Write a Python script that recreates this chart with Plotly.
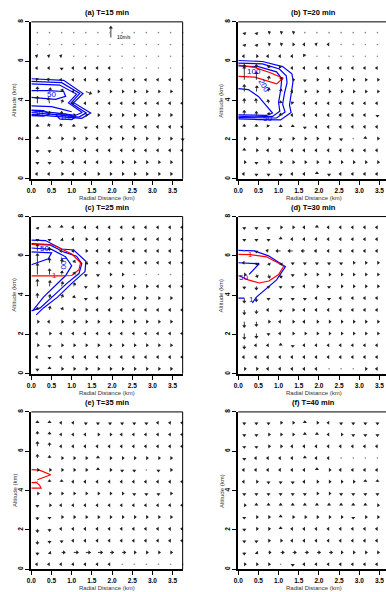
import math
import plotly.graph_objects as go

# ---------------------------------------------------------------- grid
radial_km = [0.15, 0.45, 0.75, 1.05, 1.35, 1.65, 1.95, 2.25, 2.55, 2.85, 3.15, 3.45, 3.75]
altitude_km = [7.45, 6.85, 6.25, 5.65, 5.05, 4.45, 3.85, 3.25, 2.65, 2.05, 1.45, 0.85, 0.25]

x_tick_vals = [0.0, 0.5, 1.0, 1.5, 2.0, 2.5, 3.0, 3.5]
x_tick_text = ["0.0", "0.5", "1.0", "1.5", "2.0", "2.5", "3.0", "3.5"]
y_tick_vals = [0, 2, 4, 6, 8]
y_tick_text = ["0", "2", "4", "6", "8"]

panel_titles = ["(a) T=15 min", "(b) T=20 min", "(c) T=25 min",
                "(d) T=30 min", "(e) T=35 min", "(f) T=40 min"]

# ---------------------------------------------------------------- wind (u, v) in m/s
E = (1.5, 0.0)    # weak outward flow
W = (-1.5, 0.0)   # weak inward flow
N = (0.0, 1.5)    # weak ascent
S = (0.0, -1.5)   # weak descent
C = (0.0, 0.0)    # calm

# rows run from the top level (7.45 km) down to 0.25 km
wind_a = [
    [C, C, C, C, C, C, C, C, C, C, C, C, C],
    [C, C, C, C, C, C, C, C, C, C, C, C, C],
    [(-1.5, 0.5), (-1.5, 0.5), (-1.5, 0.5), C, C, C, C, C, C, C, C, C, C],
    [W, W, S, W, W, W, W, C, C, C, C, C, C],
    [(-1.0, 1.0), (-2.0, 0.5), W, W, W, W, W, W, W, W, W, W, W],
    [(0.0, 4.0), (1.0, 3.0), (1.0, 2.0), W, (5.0, -2.0), E, E, E, E, E, E, E, E],
    [(0.0, 6.0), (-1.0, 5.0), (1.0, 3.0), W, W, W, W, W, W, W, W, W, W],
    [(0.0, 1.0), (0.0, 3.0), (0.0, 3.0), E, E, E, E, E, E, E, E, E, E],
    [(0.0, 2.0), (-1.0, 2.5), (-1.0, 2.5), (0.0, 2.0), S, W, W, W, W, W, W, W, W],
    [N, N, E, E, E, W, E, E, E, E, E, E, S],
    [S, S, W, W, W, W, W, W, W, W, W, W, W],
    [S, S, E, W, W, W, E, E, E, E, E, E, E],
    [W, W, E, W, W, E, E, E, E, E, E, E, E],
]
wind_b = [
    [(0.5, -1.5), (0.5, -1.5), (1.5, 0.5), (1.5, 0.5), (1.5, 0.5), C, C, C, C, C, C, C, C],
    [(0.5, -1.5), (0.5, -1.5), (1.5, 0.5), (1.5, 0.5), E, W, (-1.5, 0.5), W, C, C, C, C, C],
    [W, E, W, W, W, (-1.0, 1.5), C, C, C, C, C, C, C],
    [(0.0, 3.0), (0.0, 3.0), (0.5, 2.0), (-1.0, 1.5), W, W, W, W, W, W, W, W, W],
    [(0.0, 12.0), (0.0, 7.0), (0.5, 3.0), (1.0, 2.0), E, S, E, E, E, E, E, E, E],
    [(0.0, 6.0), (0.5, 5.0), (0.5, 3.0), (0.5, 2.0), W, E, E, E, E, E, E, E, E],
    [(0.0, 4.0), (-0.5, 4.0), (-0.5, 3.0), (0.0, 2.0), (-1.0, 1.0), W, W, W, W, W, W, W, W],
    [(0.0, 4.0), (0.0, 3.0), (0.5, 2.0), N, W, W, W, W, W, W, W, S, S],
    [(0.0, 2.0), (0.0, 2.0), (-1.0, 1.5), N, N, S, W, W, W, W, W, W, W],
    [E, E, E, S, E, E, E, E, S, C, N, E, E],
    [N, E, W, W, W, W, W, W, W, W, W, W, W],
    [E, S, E, E, E, E, E, E, E, E, E, E, E],
    [W, S, S, S, W, W, N, S, W, W, W, W, W],
]
wind_c = [
    [(0.5, -1.5), N, N, W, W, W, W, W, W, W, W, W, W],
    [S, S, (1.0, -1.0), W, E, W, W, W, W, W, W, W, W],
    [(0.0, 6.0), (0.0, 3.0), W, W, E, W, W, W, W, W, W, W, W],
    [(0.0, 8.0), (0.0, 4.0), (0.5, 3.0), (1.0, 2.0), (1.5, -1.0), W, W, W, W, W, W, W, W],
    [(0.0, 10.0), (0.0, 5.0), (0.5, 3.0), (1.0, 2.0), S, S, E, E, C, C, C, C, C],
    [(0.0, 6.0), (0.5, 5.0), (1.0, 4.0), (1.0, 3.0), S, E, E, E, E, E, W, W, W],
    [(0.0, 4.0), (0.5, 3.0), (1.0, 3.0), (0.5, 2.0), S, W, E, E, E, E, E, E, E],
    [(0.0, 2.0), (0.5, 3.0), (1.0, 2.0), E, E, W, W, W, W, W, W, W, W],
    [E, W, E, E, E, E, E, E, E, E, E, E, E],
    [W, E, W, W, W, W, W, W, W, W, W, W, W],
    [E, S, E, E, E, E, E, E, E, E, E, E, E],
    [W, S, W, W, W, W, W, W, W, W, W, W, W],
    [S, N, E, E, E, E, E, E, E, E, E, E, E],
]
wind_d = [
    [S, S, S, E, E, W, N, W, W, W, W, W, W],
    [S, S, S, N, W, W, W, W, W, W, W, W, W],
    [C, S, (-2.0, 0.5), (-4.0, 0.0), (-4.0, 0.0), (-3.0, 0.0), (-2.0, 0.0), W, W, W, W, W, W],
    [W, (1.0, -2.0), (1.0, -2.0), (1.0, -2.0), S, S, S, S, S, E, E, E, E],
    [E, (1.0, -2.5), (1.0, -3.0), (0.5, -3.0), S, E, E, E, E, E, E, E, E],
    [(0.0, -2.0), (0.0, -3.0), S, S, S, W, E, S, E, E, E, E, E],
    [(0.0, -4.0), (0.0, -3.0), S, S, S, S, W, S, W, W, W, W, W],
    [(0.0, -4.0), (0.0, -3.0), W, S, E, W, W, W, W, W, W, W, W],
    [(0.0, -5.0), (0.0, -4.0), E, W, E, W, E, E, E, E, E, E, E],
    [(0.0, -5.0), (0.0, -4.0), S, W, E, E, E, E, E, E, E, E, E],
    [(0.0, -3.0), W, W, N, S, W, W, W, W, W, W, W, W],
    [W, W, W, W, W, W, W, W, W, W, W, W, W],
    [E, E, W, W, W, W, W, C, C, C, E, W, W],
]
wind_e = [
    [N, N, W, W, S, S, S, S, S, S, W, W, W],
    [(0.0, 2.5), (0.0, 2.0), W, W, W, E, E, W, W, W, W, W, W],
    [(0.0, 4.0), (0.0, 3.0), W, W, W, W, W, W, W, W, W, W, W],
    [(0.0, 3.0), (0.0, 2.0), E, E, E, N, E, E, E, E, E, E, E],
    [E, E, E, E, E, N, E, S, S, C, S, E, E],
    [C, N, N, W, W, W, W, W, W, W, W, W, W],
    [E, E, E, E, E, E, E, E, S, S, S, E, E],
    [S, E, W, W, W, W, W, W, W, W, W, W, W],
    [(0.0, -2.0), S, E, E, E, E, E, E, E, E, E, E, E],
    [(0.0, -3.0), (0.0, -2.0), W, W, W, W, W, W, W, W, W, W, W],
    [(0.0, -3.0), (0.0, -2.0), S, W, W, W, W, W, W, W, W, W, W],
    [(0.0, -2.0), (1.0, -1.0), (3.0, 0.0), (4.0, 0.0), (4.0, 0.0), (4.0, 0.0), (3.0, 0.0), (3.0, 0.0), E, E, E, E, E],
    [W, W, W, W, W, W, W, C, C, C, C, C, C],
]
wind_f = [
    [S, S, S, E, E, N, E, W, S, S, S, S, S],
    [S, S, E, E, E, N, N, W, E, S, S, S, S],
    [S, S, E, E, W, W, W, W, W, W, W, W, W],
    [S, W, W, W, W, N, W, W, C, C, C, C, C],
    [W, W, W, W, W, W, N, E, W, W, W, W, W],
    [W, E, S, S, S, W, E, E, E, E, N, N, N],
    [S, S, S, S, S, S, E, E, S, S, S, S, S],
    [E, N, N, N, N, N, N, N, N, N, N, E, E],
    [S, E, E, N, E, E, E, E, E, S, E, E, E],
    [S, E, E, N, W, W, W, W, W, W, W, W, W],
    [S, S, E, E, W, W, W, W, W, W, W, W, W],
    [(0.0, -2.0), (1.0, -1.0), (2.0, 0.0), (3.0, 0.0), (3.0, 0.0), (3.0, 0.0), (3.0, 0.0), (3.0, 0.0), E, E, E, E, E],
    [E, E, E, C, S, W, W, W, W, W, W, W, W],
]

# reference vector
ref_speed_ms = 10
ref_base = (1.97, 7.2)

# ---------------------------------------------------------------- contours (r km, z km)
contours_a = [
    ("blue", [0, 0.8, 1.28, 1.05, 1.47, 1.25, 0.6, 0], [5.1, 5.02, 4.35, 3.88, 3.35, 3.08, 3.18, 3.28]),
    ("blue", [0, 0.75, 1.2, 0.98, 1.36, 1.18, 0.6, 0], [4.97, 4.9, 4.35, 3.86, 3.36, 3.15, 3.27, 3.38]),
    ("blue", [0, 0.7, 1.12, 0.92, 1.26, 1.1, 0.6, 0], [4.84, 4.78, 4.32, 3.87, 3.38, 3.24, 3.36, 3.48]),
    ("blue", [0, 0.4, 0.8, 0.85, 0.6, 0.35, 0], [4.5, 4.5, 4.45, 4.2, 4.05, 4.1, 4.15]),
    ("blue", [0, 0.5, 0.75, 1.0], [3.72, 3.68, 3.55, 3.42]),
    ("blue", [0, 0.3, 0.45, 0.3, 0], [3.5, 3.48, 3.3, 3.2, 3.22]),
    ("blue", [0.6, 0.85, 1.1, 1.0, 0.7, 0.6], [3.3, 3.3, 3.15, 3.02, 3.05, 3.3]),
]
contours_b = [
    ("blue", [0, 0.6, 1.1, 1.33, 1.36, 1.31, 1.27, 1.31, 1.05, 0.5, 0],
     [6.03, 5.98, 5.72, 5.35, 5.0, 4.42, 3.75, 3.38, 3.0, 3.02, 3.05]),
    ("blue", [0, 0.6, 1.02, 1.19, 1.21, 1.15, 1.1, 1.16, 0.95, 0.5, 0],
     [5.9, 5.86, 5.6, 5.25, 4.9, 4.4, 3.8, 3.4, 3.1, 3.1, 3.12]),
    ("blue", [0, 0.5, 0.95, 1.08, 1.05, 1.0, 1.03, 0.85, 0.4, 0],
     [5.75, 5.72, 5.45, 5.1, 4.5, 3.9, 3.45, 3.18, 3.16, 3.19]),
    ("blue", [0, 0.25, 0.5, 0.7, 0.85, 0.7, 0.3, 0], [4.6, 4.55, 4.2, 3.7, 3.35, 3.23, 3.23, 3.26]),
    ("red", [0, 0.4, 0.78, 1.11, 0.95, 0.41, 0], [5.8, 5.68, 5.42, 5.13, 4.84, 5.18, 5.22]),
]
contours_c = [
    ("blue", [0, 0.35, 0.75, 1.05, 1.35, 1.33, 1.0, 0.65, 0.3, 0.12],
     [6.8, 6.78, 6.35, 6.3, 5.72, 5.2, 4.6, 3.9, 3.35, 3.0]),
    ("blue", [0, 0.45, 0.8, 1.12, 1.25, 1.18, 0.88, 0.55, 0.22, 0],
     [6.62, 6.57, 6.2, 5.98, 5.6, 5.1, 4.6, 3.95, 3.35, 3.2]),
    ("blue", [0, 0.5, 0.85, 1.0, 0.85, 0.6, 0.3, 0.05], [6.4, 6.33, 5.95, 5.5, 5.0, 4.5, 3.9, 3.25]),
    ("blue", [0, 0.5, 0.42, 0], [6.2, 6.15, 5.85, 5.55]),
    ("red", [0, 0.55, 1.0, 1.22, 1.18, 1.0, 0.7, 0], [6.58, 6.55, 6.1, 5.65, 5.3, 5.0, 4.98, 4.98]),
]
contours_d = [
    ("blue", [0, 0.4, 0.75, 1.17, 0.95, 0.7, 0.45, 0.35], [6.28, 6.25, 6.0, 5.45, 4.78, 4.35, 3.9, 3.6]),
    ("blue", [0, 0.15], [3.85, 3.85]),
    ("blue", [0, 0.52, 0.27], [5.65, 5.6, 5.06]),
    ("red", [0, 0.3, 0.7, 1.13, 1.0, 0.76, 0.52, 0.25, 0], [6.08, 6.06, 5.95, 5.48, 5.05, 4.72, 4.62, 4.78, 5.0]),
]
contours_e = [
    ("red", [0, 0.2, 0.48, 0.3, 0.15], [5.06, 5.04, 4.8, 4.68, 4.55]),
    ("red", [0, 0.12, 0.2, 0.24, 0], [4.4, 4.42, 4.28, 4.12, 4.12]),
]
contours_f = []

# contour labels: text, r, z, colour, rotation
labels_a = [("50", 0.5, 4.28, "blue", 0), ("50", 0.18, 3.35, "blue", 0), ("100", 0.88, 3.15, "blue", 0)]
labels_b = [("100", 0.38, 5.47, "blue", 0), ("200", 0.65, 4.72, "blue", 60), ("50", 0.72, 3.07, "blue", 0)]
labels_c = [("50", 0.33, 6.38, "blue", 0), ("100", 0.8, 5.65, "blue", 90), ("1", 0.57, 4.98, "red", 0)]
labels_d = [("1", 0.3, 6.06, "red", 0), ("50", 0.12, 4.92, "blue", 0), ("1", 0.32, 3.8, "blue", 0)]
labels_e = []
labels_f = []

winds = [wind_a, wind_b, wind_c, wind_d, wind_e, wind_f]
contours = [contours_a, contours_b, contours_c, contours_d, contours_e, contours_f]
labels = [labels_a, labels_b, labels_c, labels_d, labels_e, labels_f]

# ---------------------------------------------------------------- layout geometry (pixels)
FIG_W, FIG_H = 386, 592
COL_PX = [(26.7, 180.0), (236.3, 386.0)]
ROW_PX = [(19.0, 177.0), (215.0, 373.3), (411.7, 570.0)]
X_MAX = 3.75
KM_PX_X = (COL_PX[0][1] - COL_PX[0][0]) / X_MAX
Y_MAX = 8.0
PX_PER_MS = 1.1      # arrow length in pixels per m/s
HEAD_BACK_PX = 0.9

FONT = "Liberation Sans, Arial, Helvetica, sans-serif"
ARROW_COLOR = "#222222"

fig = go.Figure()
annotations = []
shapes = []
layout_axes = {}


def pxx(p):
    return p / FIG_W


def pxy(p):
    return 1 - p / FIG_H


for i in range(6):
    row, col = divmod(i, 2)
    n = i + 1
    xs = "x" if n == 1 else f"x{n}"
    ys = "y" if n == 1 else f"y{n}"
    xk = "xaxis" if n == 1 else f"xaxis{n}"
    yk = "yaxis" if n == 1 else f"yaxis{n}"

    c0, c1 = COL_PX[col]
    r0, r1 = ROW_PX[row]
    xmax = (c1 - c0) / KM_PX_X
    km_px_y = (r1 - r0) / Y_MAX

    layout_axes[xk] = dict(
        domain=[pxx(c0), pxx(c1)], range=[0, xmax], anchor=ys,
        tickvals=x_tick_vals, ticktext=x_tick_text, ticks="outside", ticklen=4,
        tickwidth=1, tickcolor="black", showline=True, linewidth=2, linecolor="black",
        mirror=False, showgrid=False, zeroline=False, fixedrange=True,
        tickfont=dict(family=FONT, size=6.5, color="black", weight="bold"),
    )
    layout_axes[yk] = dict(
        domain=[pxy(r1), pxy(r0)], range=[0, Y_MAX], anchor=xs,
        tickvals=y_tick_vals, ticktext=y_tick_text, ticks="outside", ticklen=4,
        tickwidth=1, tickcolor="black", showline=True, linewidth=2, linecolor="black",
        mirror=False, showgrid=False, zeroline=False, tickangle=-90, fixedrange=True,
        tickfont=dict(family=FONT, size=6.5, color="black", weight="bold"),
    )

    # thin top / right frame
    shapes.append(dict(type="line", xref=f"{xs} domain", yref=f"{ys} domain",
                       x0=0, x1=1, y0=1, y1=1, line=dict(color="black", width=1)))
    if col == 0:
        shapes.append(dict(type="line", xref=f"{xs} domain", yref=f"{ys} domain",
                           x0=1, x1=1, y0=0, y1=1, line=dict(color="black", width=1)))

    # contours
    for colour, rr, zz in contours[i]:
        fig.add_trace(go.Scatter(x=rr, y=zz, mode="lines", xaxis=xs, yaxis=ys,
                                 line=dict(color=colour, width=1.2), hoverinfo="skip",
                                 showlegend=False))
    for text, lr, lz, colour, ang in labels[i]:
        annotations.append(dict(x=lr, y=lz, xref=xs, yref=ys, text=text, showarrow=False,
                                textangle=ang, font=dict(family=FONT, size=8, color=colour)))

    # wind vectors
    vectors = []
    for z, wrow in zip(altitude_km, winds[i]):
        for r, (u, v) in zip(radial_km, wrow):
            vectors.append((r, z, u, v))
    if i == 0:
        vectors.append((ref_base[0], ref_base[1], 0.0, float(ref_speed_ms)))

    sx, sy, hx, hy, ha, cx, cy = [], [], [], [], [], [], []
    for r, z, u, v in vectors:
        if u == 0 and v == 0:
            cx.append(r)
            cy.append(z)
            continue
        dxp, dyp = u * PX_PER_MS, v * PX_PER_MS
        x1 = r + dxp / KM_PX_X
        y1 = z + dyp / km_px_y
        sx += [r, x1, None]
        sy += [z, y1, None]
        length = math.hypot(dxp, dyp)
        hx.append(x1 - dxp / length * HEAD_BACK_PX / KM_PX_X)
        hy.append(y1 - dyp / length * HEAD_BACK_PX / km_px_y)
        ha.append(math.degrees(math.atan2(dxp, dyp)))

    fig.add_trace(go.Scatter(x=sx, y=sy, mode="lines", xaxis=xs, yaxis=ys,
                             line=dict(color=ARROW_COLOR, width=0.9), cliponaxis=False,
                             hoverinfo="skip", showlegend=False))
    fig.add_trace(go.Scatter(x=hx, y=hy, mode="markers", xaxis=xs, yaxis=ys, cliponaxis=False,
                             marker=dict(symbol="triangle-up", size=3.6, angle=ha,
                                         color=ARROW_COLOR, line=dict(width=0)),
                             hoverinfo="skip", showlegend=False))
    if cx:
        fig.add_trace(go.Scatter(x=cx, y=cy, mode="markers", xaxis=xs, yaxis=ys,
                                 cliponaxis=False,
                                 marker=dict(symbol="circle", size=1.6, color="#888888",
                                             line=dict(width=0)),
                                 hoverinfo="skip", showlegend=False))

    # panel title and axis titles
    mid_x = pxx((c0 + c1) / 2) if col == 0 else pxx((c0 + c0 + 3.75 * KM_PX_X) / 2)
    annotations.append(dict(x=mid_x, y=pxy(r0 - 9), xref="paper", yref="paper",
                            text=f"<b>{panel_titles[i]}</b>", showarrow=False,
                            xanchor="center", yanchor="middle",
                            font=dict(family=FONT, size=7.5, color="black")))
    annotations.append(dict(x=mid_x, y=pxy(r1 + 19), xref="paper", yref="paper",
                            text="Radial Distance (km)", showarrow=False,
                            xanchor="center", yanchor="middle",
                            font=dict(family=FONT, size=6, color="#333333")))
    annotations.append(dict(x=pxx(c0 - 17), y=pxy((r0 + r1) / 2), xref="paper", yref="paper",
                            text="Altitude (km)", showarrow=False, textangle=-90,
                            xanchor="center", yanchor="middle",
                            font=dict(family=FONT, size=6, color="#333333")))

# reference vector label
annotations.append(dict(x=ref_base[0] + 0.1, y=ref_base[1] + 0.05, xref="x", yref="y",
                        text="10m/s", showarrow=False, xanchor="left", yanchor="middle",
                        font=dict(family=FONT, size=5, color="black")))

fig.update_layout(
    width=FIG_W, height=FIG_H, margin=dict(l=0, r=0, t=0, b=0),
    paper_bgcolor="white", plot_bgcolor="white",
    annotations=annotations, shapes=shapes, showlegend=False,
    **layout_axes,
)

fig.write_html("out.html")
